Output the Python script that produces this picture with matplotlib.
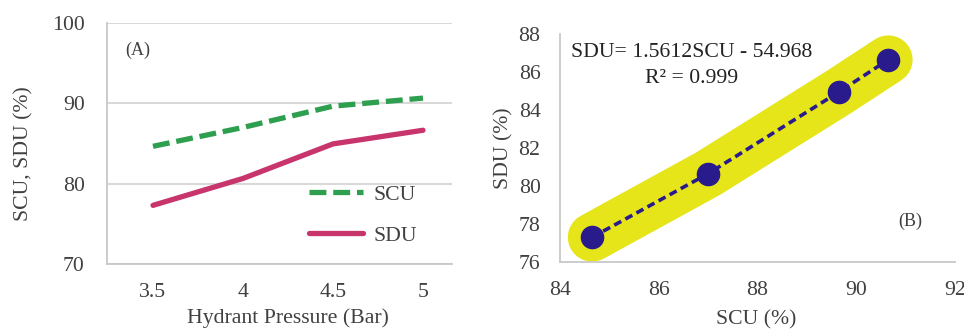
import matplotlib
matplotlib.use("Agg")
import matplotlib.pyplot as plt

plt.rcParams['font.family'] = ['Liberation Serif', 'DejaVu Serif']
plt.rcParams['font.size'] = 15.5

# data
pressure = [3.5, 4.0, 4.5, 5.0]
scu = [84.65, 87.0, 89.65, 90.65]
sdu = [77.3, 80.65, 84.95, 86.65]
equation = "SDU= 1.5612SCU - 54.968"
r2_text = "R\u00b2 = 0.999"

txt = '#404040'
axis_col = '#c8c8c8'
fs = 15.7

fig = plt.figure(figsize=(9.64, 3.30), dpi=100)

# (A) pressure vs SCU / SDU
ax1 = fig.add_axes([107 / 964, 1 - 264 / 330, 345 / 964, 241 / 330])
ax1.plot(pressure, scu, color='#2e9e4f', lw=3.8, dashes=(3.2, 1.3), label='SCU')
ax1.plot(pressure, sdu, color='#c8346c', lw=3.8, solid_capstyle='round', label='SDU')
ax1.set_xlim(3.5 - 46 / 180, 5 + 29 / 180)
ax1.set_ylim(70, 100)
ax1.set_xticks(pressure)
ax1.set_xticklabels(['3.5', '4', '4.5', '5'])
ax1.set_yticks([70, 80, 90, 100])
ax1.yaxis.grid(True, color='#d9d9d9', lw=1.5)
ax1.set_axisbelow(True)
for s in ['top', 'right']:
    ax1.spines[s].set_visible(False)
for s in ['left', 'bottom']:
    ax1.spines[s].set_color(axis_col)
    ax1.spines[s].set_linewidth(1.3)
ax1.tick_params(length=0, colors=txt, labelsize=fs)
ax1.tick_params(axis='x', pad=14)
ax1.tick_params(axis='y', pad=16)
ax1.set_xlabel('Hydrant Pressure (Bar)', color=txt, fontsize=fs)
ax1.set_ylabel('SCU, SDU (%)', color=txt, fontsize=fs)
ax1.xaxis.set_label_coords(0.525, -0.185)
ax1.yaxis.set_label_coords(-0.214, 0.46)
ax1.text(0.088, 0.888, '(A)', transform=ax1.transAxes, ha='center', va='center',
         color=txt, fontsize=13)
ax1.legend(loc='upper left', bbox_to_anchor=(0.585, 0.33), frameon=False,
           borderpad=0, borderaxespad=0, handlelength=2.5, handletextpad=0.45,
           labelspacing=0.95, labelcolor=txt, fontsize=fs)

# (B) SDU vs SCU
ax2 = fig.add_axes([560 / 964, 1 - 262 / 330, 395 / 964, 228 / 330])
ax2.plot(scu, sdu, color='#e5e51a', lw=35, solid_capstyle='round',
         solid_joinstyle='round', zorder=1)
ax2.plot(scu, sdu, color='#2a1b8c', lw=2.6, dashes=(2.2, 1.3), marker='o',
         markersize=16, zorder=2)
ax2.set_xlim(84, 92)
ax2.set_ylim(76, 88)
ax2.set_xticks([84, 86, 88, 90, 92])
ax2.set_yticks([76, 78, 80, 82, 84, 86, 88])
for s in ['top', 'right']:
    ax2.spines[s].set_visible(False)
for s in ['left', 'bottom']:
    ax2.spines[s].set_color(axis_col)
    ax2.spines[s].set_linewidth(1.3)
ax2.tick_params(length=0, colors=txt, labelsize=fs)
ax2.tick_params(axis='x', pad=14)
ax2.tick_params(axis='y', pad=14)
ax2.set_xlabel('SCU (%)', color=txt, fontsize=fs)
ax2.set_ylabel('SDU (%)', color=txt, fontsize=fs)
ax2.xaxis.set_label_coords(0.496, -0.21)
ax2.yaxis.set_label_coords(-0.119, 0.50)
ax2.text(0.334, 0.917, equation, transform=ax2.transAxes, ha='center', va='center',
         color='#222222', fontsize=fs)
ax2.text(0.334, 0.807, r2_text, transform=ax2.transAxes, ha='center', va='center',
         color='#222222', fontsize=fs)
ax2.text(0.886, 0.18, '(B)', transform=ax2.transAxes, ha='center', va='center',
         color=txt, fontsize=13)

fig.savefig('out.png', dpi=100)
